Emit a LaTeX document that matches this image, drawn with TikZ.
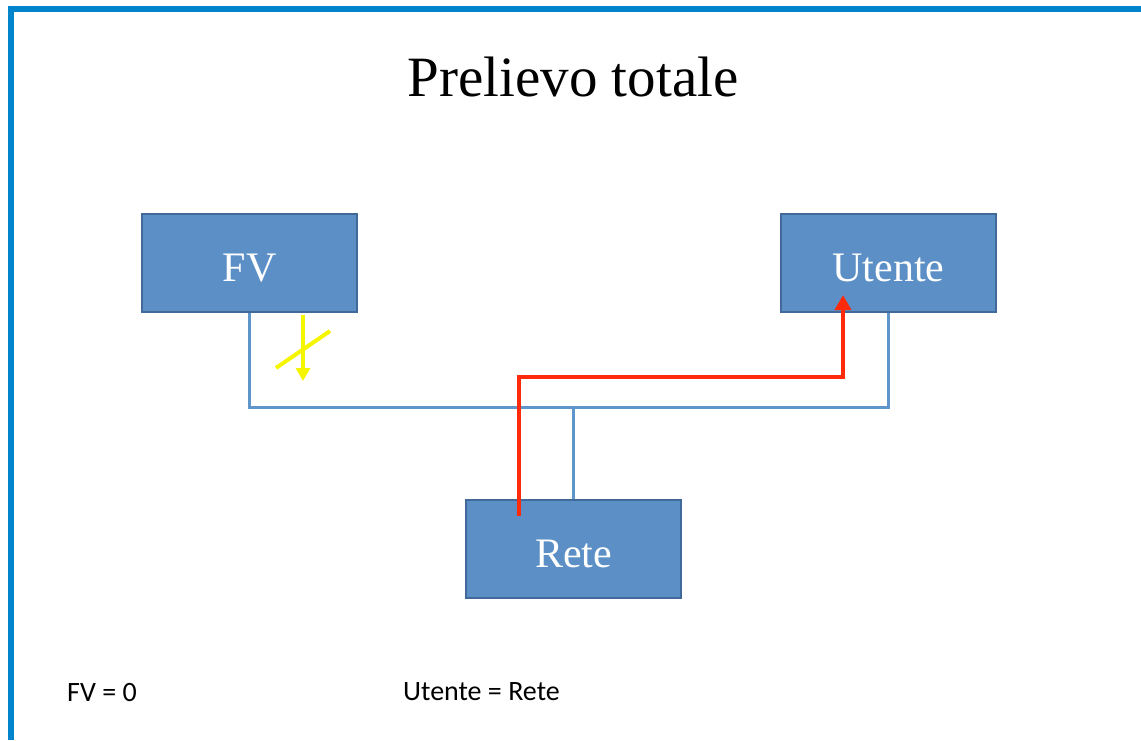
\documentclass[tikz,border=0pt]{standalone}
\usepackage{fontspec}
\setmainfont{Liberation Serif}
\newfontfamily\captionfnt{Carlito}
\usetikzlibrary{arrows.meta}
\definecolor{frame}{HTML}{0084CC}
\definecolor{boxfill}{HTML}{5B8FC5}
\definecolor{boxedge}{HTML}{41699A}
\definecolor{wire}{HTML}{5E96CC}
\definecolor{flow}{HTML}{FF2A0A}
\definecolor{blocked}{HTML}{F5F500}
\tikzset{
  unit/.style={draw=boxedge, line width=2pt, fill=boxfill, minimum width=215pt, minimum height=98pt, inner sep=0pt, text height=36pt, text depth=0pt, text=white, font=\fontsize{42}{46}\selectfont},
  wireline/.style={draw=wire, line width=3pt},
  flowline/.style={draw=flow, line width=4pt, -{Triangle[length=15pt,width=16pt]}},
  noflow/.style={draw=blocked, line width=4pt},
  caption/.style={font=\captionfnt\fontsize{28}{32}\selectfont, anchor=west, inner sep=0pt}
}
\begin{document}
\begin{tikzpicture}[x=1pt,y=-1pt]
\useasboundingbox (0,0) rectangle (1141,740);
\fill[frame] (8,6) rectangle (1141,12);
\fill[frame] (8,6) rectangle (14,740);
\node[font=\fontsize{57}{62}\selectfont] (title) at (573,77) {Prelievo totale};
\node[unit] (fv) at (249.5,263) {FV};
\node[unit] (ut) at (888.5,263) {Utente};
\node[unit] (rete) at (573.5,549) {Rete};
\coordinate (jl) at (249,407);
\coordinate (jr) at (888,407);
\coordinate (jm) at (573,407);
\draw[wireline] (fv.south -| jl) -- (jl) -- (jr) -- (ut.south -| jr);
\draw[wireline] (rete.north -| jm) -- (jm);
\coordinate (ys) at (303,315);
\coordinate (ye) at (303,381);
\draw[noflow, -{Triangle[length=13pt,width=14pt]}] (ys) -- (ye);
\coordinate (ka) at (276,368);
\coordinate (kb) at (330,331);
\draw[noflow] (ka) -- (kb);
\coordinate (r0) at (519,516);
\coordinate (r1) at (519,377);
\coordinate (r2) at (843,377);
\coordinate (r3) at (843,295);
\draw[flowline] (r0) -- (r1) -- (r2) -- (r3);
\node[caption] (c1) at (67,692) {FV = 0};
\node[caption] (c2) at (403,692) {Utente = Rete};
\end{tikzpicture}
\end{document}
